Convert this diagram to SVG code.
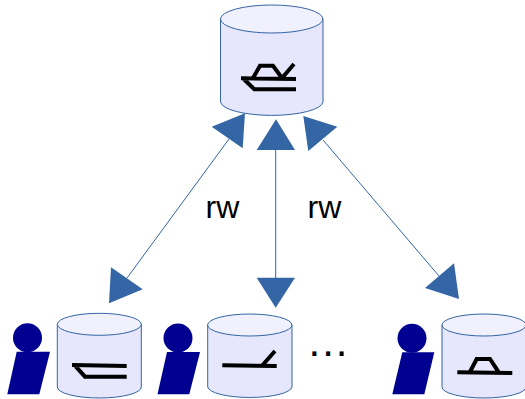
<svg xmlns="http://www.w3.org/2000/svg" width="525" height="399" viewBox="0 0 525 399">
<style>
.body{fill:#e6e6fc;stroke:#3465a4;stroke-width:1}
.lid{fill:#f1f1fd;stroke:#3465a4;stroke-width:1}
.g{fill:none;stroke:#000;stroke-width:4}
.p{fill:#000091}
.c{stroke:#3465a4;stroke-width:1;fill:none}
.h{fill:#3465a4}
.t{font-family:"Liberation Sans",Arial,sans-serif;fill:#000}
</style>
<g id="connectors">
<path class="c" d="M229 139L127 278"/>
<polygon class="h" points="211.7,126.7 245,113.3 242.7,148.3"/>
<polygon class="h" points="111,267.3 142.7,289.3 109,303.3"/>
<path class="c" d="M275.7 148V279"/>
<polygon class="h" points="276,119.3 256.7,150 295,150"/>
<polygon class="h" points="256.7,277.7 295,277.7 275.7,307.7"/>
<path class="c" d="M323 140L439 276"/>
<polygon class="h" points="303.3,116 337.3,126.7 308.3,151"/>
<polygon class="h" points="454,263.3 459,299 425,288"/>
</g>
<g id="server">
<path class="body" d="M220.5 19V102A51.3 14 0 0 0 323 102V19Z"/>
<ellipse class="lid" cx="271.7" cy="19" rx="51.2" ry="14"/>
<path class="g" d="M241 78.3L296 79M244 79.3L254.3 89.3H296M253 78L260 65.7H273L282 78L294 64"/>
</g>
<g id="user1">
<circle class="p" cx="27.5" cy="337.7" r="14.5"/>
<polygon class="p" points="16.7,351.7 50,351.7 39.3,394.3 7.3,394.3"/>
</g>
<g id="replica1">
<path class="body" d="M57.3 324.3V387A42 11 0 0 0 141.3 387V324.3Z"/>
<ellipse class="lid" cx="99.3" cy="324.3" rx="42" ry="11"/>
<path class="g" d="M72 365L126.7 366M75 365.7L85 376.7H126.7"/>
</g>
<g id="user2">
<circle class="p" cx="178" cy="338" r="14.5"/>
<polygon class="p" points="167,352 200,352 189.3,394.3 157.5,394.3"/>
</g>
<g id="replica2">
<path class="body" d="M207.7 325V387A42.2 11 0 0 0 292 387V325Z"/>
<ellipse class="lid" cx="249.8" cy="325" rx="42.2" ry="11"/>
<path class="g" d="M222.3 365.3L276.7 366M262.7 365L275 351"/>
</g>
<g id="dots"><text class="t" x="308.5" y="356" font-size="42" letter-spacing="2">...</text></g>
<g id="user3">
<circle class="p" cx="412" cy="338.3" r="14.5"/>
<polygon class="p" points="402.3,352.3 434.3,352.3 424.3,394.3 392.3,394.3"/>
</g>
<g id="replica3">
<path class="body" d="M442 325V387A42 11 0 0 0 526 387V325Z"/>
<ellipse class="lid" cx="484" cy="325" rx="42" ry="11"/>
<path class="g" d="M457.3 372.3L512.3 373M470 371.7L476.7 359H490L498.3 371.7"/>
</g>
<g id="labels">
<text class="t" x="205.5" y="218" font-size="32">rw</text>
<text class="t" x="307.5" y="218" font-size="32">rw</text>
</g>
</svg>
